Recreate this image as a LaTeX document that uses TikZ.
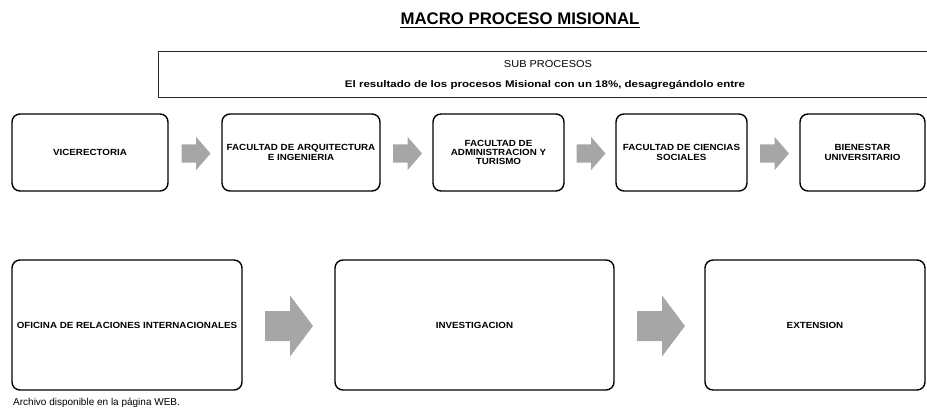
\documentclass[tikz,border=0pt]{standalone}
\usepackage{fontspec}
\setmainfont{Liberation Sans}
\newfontfamily\bxf[FakeStretch=1.2]{Liberation Sans}
\newfontfamily\bxg[FakeStretch=1.1]{Liberation Sans}
\usetikzlibrary{calc}
\definecolor{arrowgray}{RGB}{166,166,166}
\begin{document}
\begin{tikzpicture}[x=1pt,y=-1pt,
  procbox/.style={draw=black,line width=1.4pt,rounded corners=8pt,inner sep=0pt,
    align=center,font=\bxg\bfseries\fontsize{8.9}{9.2}\selectfont},
  toprow/.style={procbox,minimum height=77pt},
  botrow/.style={procbox,minimum height=130pt},
  smallarr/.pic={\fill[arrowgray] (-14.5,-9.2) -- (0,-9.2) -- (0,-16.7) -- (14.5,0)
     -- (0,16.7) -- (0,9.2) -- (-14.5,9.2) -- cycle;},
  bigarr/.pic={\fill[arrowgray] (-24,-15) -- (1,-15) -- (1,-30.5) -- (24,0)
     -- (1,30.5) -- (1,15) -- (-24,15) -- cycle;}]
\useasboundingbox (0,0) rectangle (927,415);
\clip (0,0) rectangle (927,415);

% title
\node[inner sep=0pt,anchor=base,font=\bfseries\fontsize{16.8}{20}\selectfont] (title) at (520,24) {MACRO PROCESO MISIONAL};
\draw[line width=1.5pt] ($(title.base west)+(0,3.6)$) -- ($(title.base east)+(0,3.6)$);

% sub process banner
\node[draw=black!85,line width=1pt,inner sep=0pt,anchor=north west,minimum width=790pt,minimum height=46pt] (sub) at (158,51) {};
\node[inner sep=0pt,anchor=base,font=\bxg\fontsize{10}{10}\selectfont] (subt) at (548,67.5) {SUB PROCESOS};
\node[inner sep=0pt,anchor=base,font=\bxf\bfseries\fontsize{9.6}{10}\selectfont] (res) at (545,87.5) {El resultado de los procesos Misional con un 18\%, desagreg\'andolo entre};

% top row
\node[toprow,minimum width=156pt] (b1) at (90,152.5) {VICERECTORIA};
\node[toprow,minimum width=158pt] (b2) at (301,152.5) {FACULTAD DE ARQUITECTURA\\E INGENIERIA};
\node[toprow,minimum width=131pt] (b3) at (498.5,152.5) {FACULTAD DE\\ADMINISTRACION Y\\TURISMO};
\node[toprow,minimum width=131pt] (b4) at (681.5,152.5) {FACULTAD DE CIENCIAS\\SOCIALES};
\node[toprow,minimum width=125pt] (b5) at (862.5,152.5) {BIENESTAR\\UNIVERSITARIO};

\pic at ($(b1.east)!0.5!(b2.west)+(1,1)$) {smallarr};
\pic at ($(b2.east)!0.5!(b3.west)+(1,1)$) {smallarr};
\pic at ($(b3.east)!0.5!(b4.west)+(1,1)$) {smallarr};
\pic at ($(b4.east)!0.5!(b5.west)+(1,1)$) {smallarr};

% bottom row
\node[botrow,minimum width=230pt] (b6) at (127,325) {OFICINA DE RELACIONES INTERNACIONALES};
\node[botrow,minimum width=279pt] (b7) at (474.5,325) {INVESTIGACION};
\node[botrow,minimum width=220pt] (b8) at (815,325) {EXTENSION};

\pic at ($(b6.east)!0.5!(b7.west)+(0.5,1)$) {bigarr};
\pic at ($(b7.east)!0.5!(b8.west)+(1.5,1)$) {bigarr};

% footer
\node[inner sep=0pt,anchor=base west,font=\fontsize{10}{12}\selectfont] (foot) at (13,405) {Archivo disponible en la p\'agina WEB.};
\end{tikzpicture}
\end{document}
